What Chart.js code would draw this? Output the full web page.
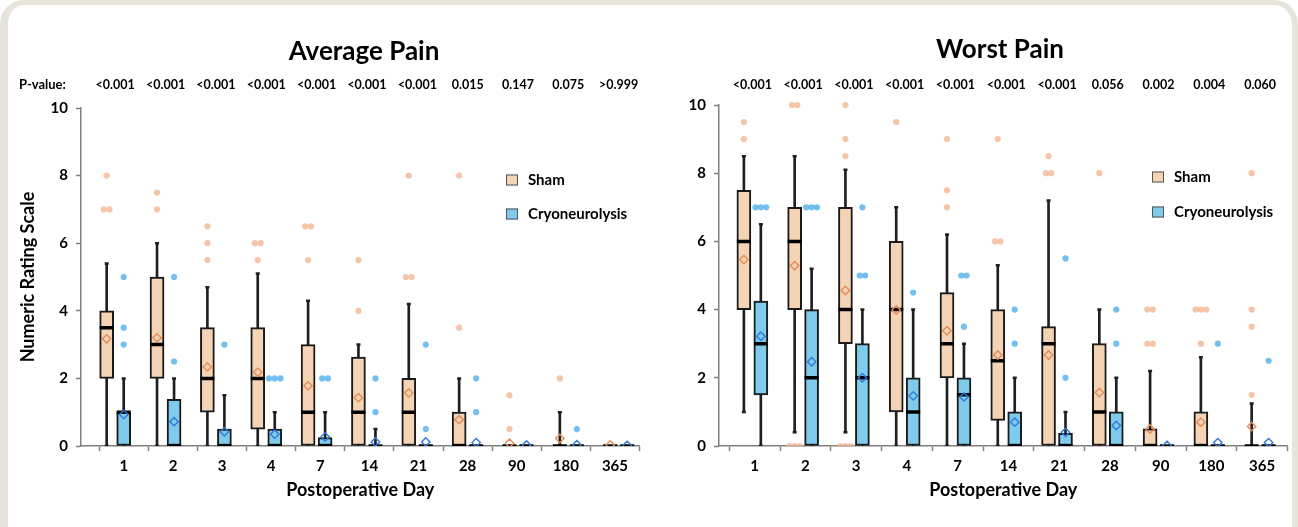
<!DOCTYPE html>
<html><head><meta charset="utf-8">
<script src="https://cdn.jsdelivr.net/npm/chart.js@4.4.1/dist/chart.umd.min.js"></script>
<style>
html,body{margin:0;padding:0;background:#fff;}
body{width:1298px;height:527px;overflow:hidden;position:relative;font-family:Lato,sans-serif;}
#frame{position:absolute;left:0;top:0;width:1284px;height:560px;border:5px solid #e7e4dc;border-left-width:8px;border-right-width:6px;border-radius:24px;}
#c1{position:absolute;left:0;top:0;}
#c2{position:absolute;left:650px;top:0;}
</style></head><body>
<div id="frame"></div>
<canvas id="c1" width="650" height="527"></canvas>
<canvas id="c2" width="648" height="527"></canvas>
<script>
// ---------- DATA ----------
const days = ['1','2','3','4','7','14','21','28','90','180','365'];
const pAverage = ['<0.001','<0.001','<0.001','<0.001','<0.001','<0.001','<0.001','0.015','0.147','0.075','>0.999'];
const pWorst   = ['<0.001','<0.001','<0.001','<0.001','<0.001','<0.001','<0.001','0.056','0.002','0.004','0.060'];

// Average Pain - Sham
const avgShamQ1   = [2, 2, 1, 0.5, 0, 0, 0, 0, 0, 0, 0];
const avgShamQ3   = [4, 5, 3.5, 3.5, 3, 2.63, 2, 1, 0, 0, 0];
const avgShamMed  = [3.5, 3, 2, 2, 1, 1, 1, 0, 0, 0, 0];
const avgShamMean = [3.17, 3.2, 2.34, 2.18, 1.78, 1.43, 1.57, 0.78, 0.08, 0.22, 0.03];
const avgShamLo   = [0, 0, 0, 0, 0, 0, 0, 0, 0, 0, 0];
const avgShamHi   = [5.4, 6, 4.7, 5.1, 4.3, 3, 4.2, 2, 0, 1, 0];
const avgShamOut  = [[7,7,8],[7,7.5],[5.5,6,6.5],[5.5,6,6],[5.5,6.5,6.5],[4,5.5],[5,5,8],[3.5,8],[0.5,1.5],[2],[]];
// Average Pain - Cryoneurolysis
const avgCryoQ1   = [0, 0, 0, 0, 0, 0, 0, 0, 0, 0, 0];
const avgCryoQ3   = [1, 1.38, 0.5, 0.5, 0.25, 0, 0, 0, 0, 0, 0];
const avgCryoMed  = [1, 0, 0, 0, 0, 0, 0, 0, 0, 0, 0];
const avgCryoMean = [0.93, 0.72, 0.42, 0.35, 0.27, 0.12, 0.12, 0.1, 0.03, 0.04, 0.02];
const avgCryoLo   = [0, 0, 0, 0, 0, 0, 0, 0, 0, 0, 0];
const avgCryoHi   = [2, 2, 1.5, 1, 1, 0.5, 0, 0, 0, 0, 0];
const avgCryoOut  = [[3,3.5,5],[2.5,5],[3],[2,2,2],[2,2],[1,2],[0.5,3],[1,2],[],[0.5],[]];

// Worst Pain - Sham
const worstShamQ1   = [4, 4, 3, 1, 2, 0.75, 0, 0, 0, 0, 0];
const worstShamQ3   = [7.5, 7, 7, 6, 4.5, 4, 3.5, 3, 0.5, 1, 0];
const worstShamMed  = [6, 6, 4, 4, 3, 2.5, 3, 1, 0, 0, 0];
const worstShamMean = [5.47, 5.29, 4.56, 3.99, 3.38, 2.67, 2.67, 1.57, 0.5, 0.7, 0.57];
const worstShamLo   = [1, 0.4, 0.4, 0, 0, 0, 0, 0, 0, 0, 0];
const worstShamHi   = [8.5, 8.5, 8.1, 7, 6.2, 5.3, 7.2, 4, 2.2, 2.6, 1.25];
const worstShamOut  = [[9,9.5],[0,0,0,10,10],[0,0,0,8.5,9,10],[9.5],[7,7.5,9],[6,6,9],[8,8,8.5],[8],[3,3,4,4],[3,4,4,4],[1.5,3.5,4,8]];
// Worst Pain - Cryoneurolysis
const worstCryoQ1   = [1.5, 0, 0, 0, 0, 0, 0, 0, 0, 0, 0];
const worstCryoQ3   = [4.25, 4, 3, 2, 2, 1, 0.37, 1, 0, 0, 0];
const worstCryoMed  = [3, 2, 2, 1, 1.5, 0, 0, 0, 0, 0, 0];
const worstCryoMean = [3.22, 2.47, 2.0, 1.47, 1.44, 0.7, 0.4, 0.6, 0.02, 0.1, 0.1];
const worstCryoLo   = [0, 0, 0, 0, 0, 0, 0, 0, 0, 0, 0];
const worstCryoHi   = [6.5, 5.2, 4, 4, 3, 2, 1, 2, 0, 0, 0];
const worstCryoOut  = [[7,7,7],[7,7,7],[5,5,7],[4.5],[3.5,5,5],[3,4],[2,5.5],[3,4],[],[3],[2.5]];

const yTicksMax = 10, yTickStep = 2;

// ---------- STYLE ----------
const FONT = 'Lato, "Open Sans", sans-serif';
const C = {
  shamFill:'#f5d3b5', cryoFill:'#7ecbeb', box:'#1a1a1a', whisk:'#1f1f1f',
  shamOut:'rgba(243,178,140,0.75)', cryoOut:'rgba(80,175,235,0.8)',
  shamMean:'#e58c55', cryoMean:'#2f78dd', axis:'#808080', text:'#000'
};
const bottomClip = {left:false, top:false, right:false, bottom:0};

function groupSets(g, off, fill, outCol, meanCol, spread) {
  const idx = days.map((_, i) => i + off);
  const whisk = idx.map((x, i) => ({x, y:[g.lo[i], g.hi[i]]}));
  const box = idx.map((x, i) => ({x, y:[g.q1[i], g.q3[i]]}));
  const med = idx.map((x, i) => ({x, y:g.med[i]}));
  const mean = idx.map((x, i) => ({x, y:g.mean[i]}));
  const caps = [];
  idx.forEach((x, i) => { if (g.hi[i] > g.q3[i]) caps.push({x, y:g.hi[i]}); if (g.lo[i] < g.q1[i]) caps.push({x, y:g.lo[i]}); });
  const outs = [];
  g.out.forEach((arr, i) => {
    const counts = new Map();
    arr.forEach(v => counts.set(v, (counts.get(v) || 0) + 1));
    counts.forEach((n, v) => { for (let j = 0; j < n; j++) outs.push({x: idx[i] + (j - (n - 1) / 2) * spread, y: v}); });
  });
  return [
    {type:'bar', xAxisID:'xd', data:whisk, backgroundColor:C.whisk, barThickness:2, grouped:false, order:10, borderWidth:0},
    {type:'scatter', xAxisID:'xd', data:caps, pointStyle:'line', radius:2, borderColor:C.whisk, borderWidth:2.5, order:9},
    {type:'bar', xAxisID:'xd', data:box, backgroundColor:fill, borderColor:C.box, borderWidth:2, borderSkipped:false, barThickness:14, grouped:false, order:6},
    {type:'scatter', xAxisID:'xd', data:med, pointStyle:'line', radius:7, borderColor:'#000', borderWidth:3.5, order:5},
    {type:'scatter', xAxisID:'xd', data:mean, pointStyle:'rectRot', radius:4.2, borderColor:meanCol, backgroundColor:'rgba(0,0,0,0)', borderWidth:1.4, order:4, clip:bottomClip},
    {type:'scatter', xAxisID:'xd', data:outs, pointStyle:'circle', radius:3.1, backgroundColor:outCol, borderWidth:0, order:3, clip:bottomClip}
  ];
}

const textPlugin = {
  id:'texts',
  afterDraw(chart) {
    const o = chart.options.plugins.texts, ctx = chart.ctx, xd = chart.scales.xd;
    ctx.save();
    ctx.fillStyle = C.text;
    ctx.textBaseline = 'middle';
    ctx.textAlign = 'center';
    ctx.font = 'bold 26px ' + FONT;
    ctx.fillText(o.title, o.titleX, o.titleY);
    ctx.font = 'bold 12.5px ' + FONT;
    o.pvals.forEach((p, i) => ctx.fillText(p, xd.getPixelForValue(i), o.pY));
    if (o.pLabel) { ctx.textAlign = 'left'; ctx.font = 'bold 13px ' + FONT; ctx.fillText(o.pLabel, o.pLabelX, o.pY); }
    // legend
    const L = o.legend;
    [[ 'Sham', C.shamFill ], [ 'Cryoneurolysis', C.cryoFill ]].forEach(([t, col], k) => {
      const y = L.y + k * L.gap;
      ctx.fillStyle = col; ctx.fillRect(L.x, y - 5.5, 12, 11);
      ctx.strokeStyle = '#555'; ctx.lineWidth = 1; ctx.strokeRect(L.x + 0.5, y - 5, 11, 10);
      ctx.fillStyle = C.text; ctx.textAlign = 'left'; ctx.font = 'bold 15px ' + FONT;
      ctx.fillText(t, L.x + 22, y);
    });
    ctx.restore();
  }
};

function makeChart(id, sham, cryo, cfg) {
  const datasets = [
    ...groupSets(sham, -cfg.d, C.shamFill, C.shamOut, C.shamMean, cfg.spread),
    ...groupSets(cryo, cfg.d, C.cryoFill, C.cryoOut, C.cryoMean, cfg.spread)
  ];
  return new Chart(document.getElementById(id), {
    type:'bar',
    data:{datasets},
    plugins:[textPlugin],
    options:{
      responsive:false, animation:false, events:[],
      layout:{padding:cfg.pad},
      plugins:{legend:{display:false}, tooltip:{enabled:false}, texts:cfg.texts},
      scales:{
        xd:{type:'linear', display:false, offset:false, grid:{offset:false}, min:cfg.dMin, max:cfg.dMax},
        x:{type:'linear', position:'bottom', offset:false, min:cfg.tMin, max:days.length,
          afterBuildTicks(s){ const t=[]; for(let k=0;k<=2*days.length;k++) t.push({value:k/2}); s.ticks=t; },
          afterFit(s){ s.height = cfg.xH; },
          ticks:{autoSkip:false, maxRotation:0, color:C.text, font:{family:FONT, size:15, weight:'bold'}, padding:6,
            callback:(v)=> Number.isInteger(v) ? '' : days[Math.floor(v)]},
          grid:{offset:false, drawOnChartArea:false, drawTicks:true, tickLength:5, tickWidth:1.5,
            tickColor:(c)=> (c.tick && Number.isInteger(c.tick.value)) ? C.axis : 'rgba(0,0,0,0)'},
          border:{display:true, color:C.axis, width:1.5},
          title:{display:true, text:'Postoperative Day', color:C.text, font:{family:FONT, size:18, weight:'bold'}, padding:{top:0, bottom:5}}
        },
        y:{type:'linear', min:0, max:yTicksMax,
          afterFit(s){ s.width = cfg.yW; },
          ticks:{stepSize:yTickStep, color:C.text, font:{family:FONT, size:15, weight:'bold'}, padding:cfg.yPad},
          grid:{drawOnChartArea:false, drawTicks:true, tickLength:5, tickWidth:1.5, tickColor:C.axis},
          border:{display:true, color:C.axis, width:1.5},
          title:{display:!!cfg.yTitle, text:cfg.yTitle || '', color:C.text, font:{family:FONT, size:18, weight:'bold'}, padding:{top:7, bottom:0}}
        }
      }
    }
  });
}

makeChart('c1',
  {q1:avgShamQ1, q3:avgShamQ3, med:avgShamMed, mean:avgShamMean, lo:avgShamLo, hi:avgShamHi, out:avgShamOut},
  {q1:avgCryoQ1, q3:avgCryoQ3, med:avgCryoMed, mean:avgCryoMean, lo:avgCryoLo, hi:avgCryoHi, out:avgCryoOut},
  {d:0.169, spread:0.115, dMin:-0.679, dMax:10.413, tMin:-0.373,
   pad:{left:10, top:108, right:10, bottom:21}, xH:60, yW:71, yPad:8, yTitle:'Numeric Rating Scale',
   texts:{title:'Average Pain', titleX:364, titleY:52, pvals:pAverage, pY:85, pLabel:'P-value:', pLabelX:19,
          legend:{x:506, y:180, gap:34}}});

makeChart('c2',
  {q1:worstShamQ1, q3:worstShamQ3, med:worstShamMed, mean:worstShamMean, lo:worstShamLo, hi:worstShamHi, out:worstShamOut},
  {q1:worstCryoQ1, q3:worstCryoQ3, med:worstCryoMed, mean:worstCryoMean, lo:worstCryoLo, hi:worstCryoHi, out:worstCryoOut},
  {d:0.167, spread:0.105, dMin:-0.657, dMax:10.539, tMin:-0.202,
   pad:{left:0, top:105, right:8, bottom:21}, xH:60, yW:69, yPad:8, yTitle:null,
   texts:{title:'Worst Pain', titleX:350, titleY:50, pvals:pWorst, pY:85, pLabel:null,
          legend:{x:502, y:177, gap:35}}});
</script>
</body></html>
